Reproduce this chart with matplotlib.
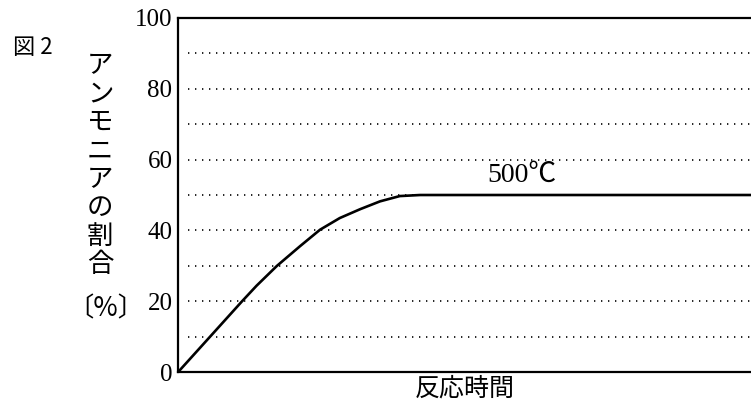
import numpy as np
import matplotlib
matplotlib.use('Agg')
import matplotlib.pyplot as plt

# values (x: reaction time, arbitrary units 0-100)
time_vals = [0, 5.5, 11.0, 13.5, 17.0, 21.0, 24.4, 27.8, 31.3, 34.7, 38.1, 41.6, 100]
nh3_vals = [0, 10, 20, 24.4, 30, 35.6, 40.2, 43.5, 46.0, 48.2, 49.7, 50, 50]
y_ticks = [0, 20, 40, 60, 80, 100]
grid_levels = [10, 20, 30, 40, 50, 60, 70, 80, 90]
curve_label = '500℃'
ylabel_chars = list('アンモニアの割合')
ylabel_unit = '〔%〕'
xlabel = '反応時間'
fig_label = '図 2'

serif = ['Liberation Serif', 'Noto Sans CJK JP', 'DejaVu Sans']
jp = ['Noto Sans CJK JP', 'DejaVu Sans']

fig = plt.figure(figsize=(7.51, 4.05), dpi=100)
ax = fig.add_axes([0.237, 0.081, 0.775, 0.875])

# dotted reference lines
for g in grid_levels:
    ax.hlines(g, 1.7, 102, colors='black', linewidth=1.2,
              linestyles=(0, (0.8, 3.4)), zorder=1)

ax.plot(time_vals, nh3_vals, color='black', linewidth=1.9, zorder=3,
        solid_capstyle='round', solid_joinstyle='round')

ax.text(59, 55.5, curve_label, family=serif, fontsize=20,
        ha='center', va='center')

ax.set_xlim(0, 100)
ax.set_ylim(0, 100)
ax.set_xticks([])
ax.set_yticks(y_ticks)
ax.set_yticklabels([str(t) for t in y_ticks], family=serif, fontsize=18)
ax.tick_params(axis='y', length=0, pad=4)

for side in ['left', 'top', 'bottom']:
    ax.spines[side].set_linewidth(1.6)
ax.spines['right'].set_visible(False)

# vertical y label, one character per row
top_px = 66
pitch = 28.4
for i, ch in enumerate(ylabel_chars):
    fig.text(100 / 751, 1 - (top_px + i * pitch) / 405, ch, family=jp,
             fontsize=19, ha='center', va='center')
fig.text(106 / 751, 1 - 309 / 405, ylabel_unit, family=jp,
         fontsize=19, ha='center', va='center')

fig.text(465 / 751, 1 - 389 / 405, xlabel, family=jp, fontsize=18,
         ha='center', va='center')
fig.text(13 / 751, 1 - 48 / 405, fig_label, family=jp, fontsize=16,
         ha='left', va='center')

fig.savefig('out.png', dpi=100)
